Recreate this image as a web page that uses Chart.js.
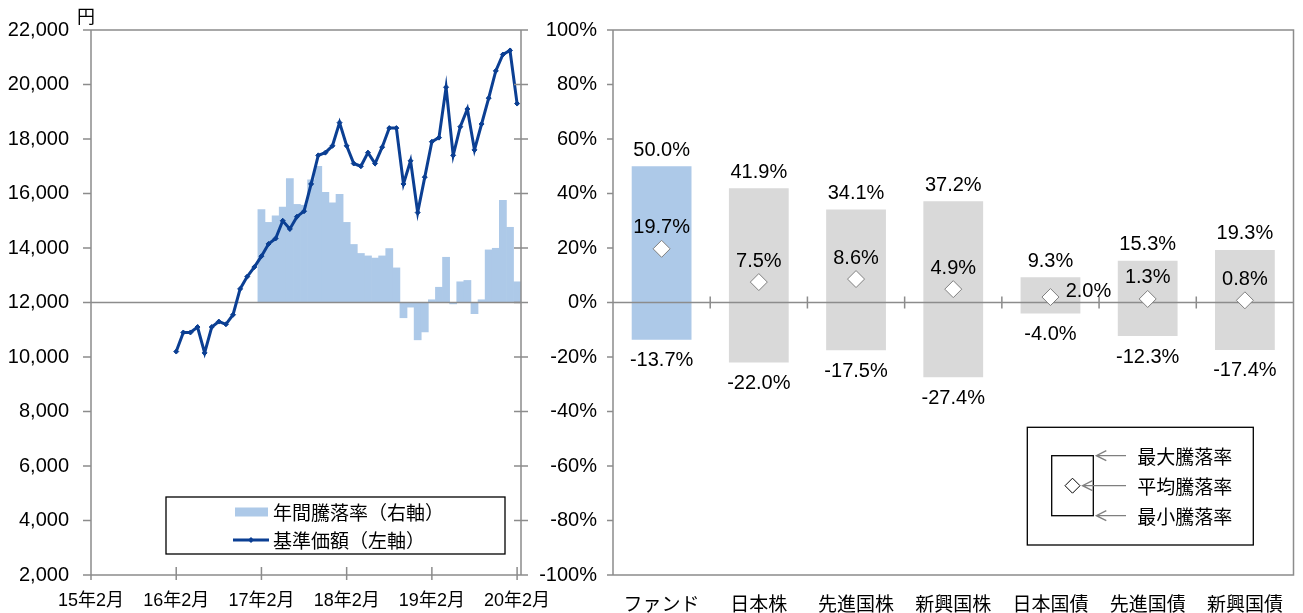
<!DOCTYPE html>
<html><head><meta charset="utf-8">
<script src="https://cdn.jsdelivr.net/npm/chart.js@4.4.1/dist/chart.umd.min.js"></script>
<style>
html,body{margin:0;padding:0;background:#fff;}
#wrap{position:relative;width:1303px;height:613px;overflow:hidden;}
#c1{position:absolute;left:0;top:0;}
#c2{position:absolute;left:532px;top:0;}
</style></head><body>
<div id="wrap">
<canvas id="c1" width="562" height="613"></canvas>
<canvas id="c2" width="771" height="613"></canvas>
</div>
<script>
// ---------- DATA ----------
const xTickLabels = ['15年2月','16年2月','17年2月','18年2月','19年2月','20年2月'];
const xTickMonths = [0, 12, 24, 36, 48, 60];          // months counted from 15年2月
const navStartMonth = 12;                              // 16年2月
const navValues = [10200,10900,10900,11100,10150,11100,11300,11200,11550,12500,
                   12950,13300,13700,14150,14350,15000,14700,15150,15350,16350,
                   17400,17500,17750,18600,17750,17100,17000,17500,17100,17700,
                   18400,18400,16350,17200,15300,16600,17900,18050,19900,17400,
                   18450,19100,17600,18550,19500,20500,21100,21250,19300];
const returnStartMonth = 24;                           // 17年2月
const annualReturns = [34.1,29.4,31.8,35.0,45.5,36.0,35.7,45.0,50.0,40.4,
                       36.6,39.7,29.4,21.3,18.0,17.1,16.3,17.1,19.8,12.7,
                       -5.6,-1.7,-13.7,-10.8,1.0,5.6,16.6,-0.5,7.6,8.1,
                       -4.1,1.0,19.3,19.9,37.5,27.6,7.6];
const navLabel = '基準価額（左軸）';
const returnLabel = '年間騰落率（右軸）';
const unitLabel = '円';

const categories = ['ファンド','日本株','先進国株','新興国株','日本国債','先進国債','新興国債'];
const maxReturns = [50.0, 41.9, 34.1, 37.2, 9.3, 15.3, 19.3];
const avgReturns = [19.7, 7.5, 8.6, 4.9, 2.0, 1.3, 0.8];
const minReturns = [-13.7, -22.0, -17.5, -27.4, -4.0, -12.3, -17.4];
const legendTexts = ['最大騰落率','平均騰落率','最小騰落率'];

// ---------- STYLE ----------
const NUM_FONT = "'Liberation Sans','Arial',sans-serif";
const JP_FONT = "'Noto Sans CJK JP','Noto Sans CJK SC',sans-serif";
const MIX_FONT = "'Liberation Sans','Noto Sans CJK JP',sans-serif";
const AXIS = '#8c8c8c';
const BLUE_LIGHT = '#adc9e8';
const GREY_BAR = '#d9d9d9';
const NAVY = '#0b3f93';
Chart.defaults.color = '#000';
Chart.defaults.animation = false;

const noGrid = {display: false, drawTicks: false};

// ---------- LEFT CHART ----------
const leftDecor = {
  id: 'leftDecor',
  afterDatasetDraw(chart, args) {
    if (args.meta.type !== 'bar') return;
    const {ctx, chartArea: a} = chart;
    const y0 = chart.scales.y1.getPixelForValue(0);
    ctx.save();
    ctx.strokeStyle = AXIS; ctx.lineWidth = 1.5;
    ctx.beginPath(); ctx.moveTo(a.left, y0); ctx.lineTo(a.right, y0); ctx.stroke();
    ctx.restore();
  },
  afterDraw(chart) {
    const {ctx, chartArea: a} = chart;
    const {x, y, y1} = chart.scales;
    ctx.save();
    ctx.strokeStyle = AXIS; ctx.lineWidth = 1.5;
    ctx.beginPath();
    ctx.rect(a.left, a.top, a.right - a.left, a.bottom - a.top);
    y.ticks.forEach(t => { const p = y.getPixelForValue(t.value); ctx.moveTo(a.left - 8, p); ctx.lineTo(a.left, p); });
    for (let v = y1.min; v <= y1.max; v += 20) { const p = y1.getPixelForValue(v); ctx.moveTo(a.right - 7, p); ctx.lineTo(a.right + 7, p); }
    x.ticks.forEach(t => { const p = x.getPixelForValue(t.value); ctx.moveTo(p, a.bottom - 8); ctx.lineTo(p, a.bottom + 5); });
    ctx.stroke();
    // unit
    ctx.fillStyle = '#000';
    ctx.font = `18px ${JP_FONT}`;
    ctx.textAlign = 'center'; ctx.textBaseline = 'middle';
    ctx.fillText(unitLabel, a.left - 5, a.top - 14);
    // legend
    const o = chart.options.plugins.leftDecor.legend;
    ctx.lineWidth = 1.3; ctx.strokeStyle = '#000';
    ctx.strokeRect(o.x, o.y, o.w, o.h);
    const ds = chart.data.datasets;
    const barDs = ds.find(d => d.type === 'bar');
    const lineDs = ds.find(d => d.type === 'line');
    ctx.fillStyle = barDs.backgroundColor;
    ctx.fillRect(o.sx, o.row1 - 4.5, 33, 9);
    ctx.strokeStyle = lineDs.borderColor; ctx.lineWidth = 3;
    ctx.beginPath(); ctx.moveTo(o.sx - 2, o.row2); ctx.lineTo(o.sx + 34, o.row2); ctx.stroke();
    const mx = o.sx + 16;
    ctx.fillStyle = lineDs.borderColor;
    ctx.beginPath(); ctx.moveTo(mx - 3, o.row2); ctx.lineTo(mx, o.row2 - 3); ctx.lineTo(mx + 3, o.row2); ctx.lineTo(mx, o.row2 + 3); ctx.closePath(); ctx.fill();
    ctx.fillStyle = '#000';
    ctx.font = `19px ${JP_FONT}`;
    ctx.textAlign = 'left'; ctx.textBaseline = 'middle';
    ctx.fillText(barDs.label, o.tx, o.row1 + 1);
    ctx.fillText(lineDs.label, o.tx, o.row2 + 1);
    ctx.restore();
  }
};

new Chart(document.getElementById('c1'), {
  type: 'bar',
  data: {
    datasets: [
      { type: 'line', label: navLabel, yAxisID: 'y', order: 0,
        data: navValues.map((v, i) => ({x: navStartMonth + i, y: v})),
        borderColor: NAVY, borderWidth: 3, tension: 0,
        pointStyle: 'rectRot', pointRadius: 2.5, pointBackgroundColor: NAVY, pointBorderColor: NAVY, pointBorderWidth: 1 },
      { type: 'bar', label: returnLabel, yAxisID: 'y1', order: 1,
        data: annualReturns.map((v, i) => ({x: returnStartMonth + i, y: v})),
        backgroundColor: BLUE_LIGHT, borderWidth: 0, barPercentage: 1, categoryPercentage: 1 }
    ]
  },
  options: {
    responsive: false,
    layout: {padding: {top: 30, left: 0, right: 30, bottom: 0}},
    plugins: {
      legend: {display: false}, tooltip: {enabled: false},
      leftDecor: {legend: {x: 166, y: 497, w: 339, h: 57, sx: 235, tx: 273, row1: 512, row2: 540}}
    },
    scales: {
      x: { type: 'linear', min: 0, max: 60.55, offset: false,
           grid: noGrid, border: {display: false},
           afterBuildTicks: s => { s.ticks = xTickMonths.map(v => ({value: v})); },
           ticks: { autoSkip: false, maxRotation: 0, minRotation: 0, padding: 15,
                    callback: v => xTickLabels[xTickMonths.indexOf(v)],
                    font: {family: MIX_FONT, size: 18} },
           afterFit: s => { s.height = 38; s.paddingLeft = 0; s.paddingRight = 0; } },
      y: { position: 'left', min: 2000, max: 22000,
           grid: noGrid, border: {display: false},
           ticks: { stepSize: 2000, padding: 22, callback: v => v.toLocaleString('en-US'),
                    font: {family: NUM_FONT, size: 20} },
           afterFit: s => { s.width = 91; s.paddingTop = 0; s.paddingBottom = 0; } },
      y1: { position: 'right', min: -100, max: 100,
            grid: noGrid, border: {display: false},
            ticks: {display: false, stepSize: 20},
            afterFit: s => { s.width = 11; s.paddingTop = 0; s.paddingBottom = 0; } }
    }
  },
  plugins: [leftDecor]
});

// ---------- RIGHT CHART ----------
const rightDecor = {
  id: 'rightDecor',
  afterDatasetDraw(chart, args) {
    if (args.meta.type !== 'bar') return;
    const {ctx, chartArea: a} = chart;
    const {x, y} = chart.scales;
    const y0 = y.getPixelForValue(0);
    ctx.save();
    ctx.strokeStyle = AXIS; ctx.lineWidth = 1.5;
    ctx.beginPath();
    ctx.moveTo(a.left, y0); ctx.lineTo(a.right, y0);
    for (let i = 0; i < categories.length - 1; i++) {
      const p = (x.getPixelForValue(i) + x.getPixelForValue(i + 1)) / 2;
      ctx.moveTo(p, y0 - 6); ctx.lineTo(p, y0 + 6);
    }
    ctx.stroke();
    ctx.restore();
  },
  afterDatasetsDraw(chart) {
    const {ctx} = chart;
    const {x, y} = chart.scales;
    const place = chart.options.plugins.rightDecor.avgPlacement;
    ctx.save();
    ctx.fillStyle = '#000';
    ctx.font = `20px ${NUM_FONT}`;
    ctx.textAlign = 'center'; ctx.textBaseline = 'middle';
    const fmt = v => v.toFixed(1) + '%';
    categories.forEach((c, i) => {
      const px = x.getPixelForValue(i);
      ctx.fillText(fmt(maxReturns[i]), px, y.getPixelForValue(maxReturns[i]) - 16);
      ctx.fillText(fmt(minReturns[i]), px, y.getPixelForValue(minReturns[i]) + 21);
      const ay = y.getPixelForValue(avgReturns[i]);
      if (place[i] === 'right') ctx.fillText(fmt(avgReturns[i]), px + 38, ay - 6);
      else ctx.fillText(fmt(avgReturns[i]), px, ay - 21);
    });
    ctx.restore();
  },
  afterDraw(chart) {
    const {ctx, chartArea: a} = chart;
    const {y} = chart.scales;
    ctx.save();
    ctx.strokeStyle = AXIS; ctx.lineWidth = 1.5;
    ctx.beginPath();
    ctx.rect(a.left, a.top, a.right - a.left, a.bottom - a.top);
    y.ticks.forEach(t => { const p = y.getPixelForValue(t.value); ctx.moveTo(a.left - 6, p); ctx.lineTo(a.left, p); });
    ctx.stroke();
    // legend
    const o = chart.options.plugins.rightDecor.legend;
    ctx.strokeStyle = '#000'; ctx.lineWidth = 1.3;
    ctx.strokeRect(o.x, o.y, o.w, o.h);
    ctx.strokeRect(o.ix, o.iy, o.iw, o.ih);
    const dx = o.ix + o.iw / 2, dy = o.iy + o.ih / 2;
    ctx.fillStyle = '#fff'; ctx.lineWidth = 1;
    ctx.beginPath();
    ctx.moveTo(dx - 7.5, dy); ctx.lineTo(dx, dy - 7.5); ctx.lineTo(dx + 7.5, dy); ctx.lineTo(dx, dy + 7.5); ctx.closePath();
    ctx.fill(); ctx.stroke();
    const rows = [o.iy, dy, o.iy + o.ih];
    const tips = [o.ix + o.iw + 3, dx + 10, o.ix + o.iw + 3];
    ctx.strokeStyle = '#7f7f7f'; ctx.lineWidth = 1.3;
    rows.forEach((ry, k) => {
      ctx.beginPath();
      ctx.moveTo(o.tail, ry); ctx.lineTo(tips[k], ry);
      ctx.moveTo(tips[k] + 10, ry - 5); ctx.lineTo(tips[k], ry); ctx.lineTo(tips[k] + 10, ry + 5);
      ctx.stroke();
    });
    ctx.fillStyle = '#000';
    ctx.font = `19px ${JP_FONT}`;
    ctx.textAlign = 'left'; ctx.textBaseline = 'middle';
    legendTexts.forEach((t, k) => ctx.fillText(t, o.tx, rows[k] + 1));
    ctx.restore();
  }
};

new Chart(document.getElementById('c2'), {
  type: 'bar',
  data: {
    labels: categories,
    datasets: [
      { type: 'line', label: '平均騰落率', data: avgReturns, order: 0, showLine: false,
        pointStyle: 'rectRot', pointRadius: 8.5, pointBackgroundColor: '#fff',
        pointBorderColor: '#808080', pointBorderWidth: 1 },
      { type: 'bar', label: '騰落率', order: 1,
        data: categories.map((c, i) => [minReturns[i], maxReturns[i]]),
        backgroundColor: categories.map((c, i) => i === 0 ? BLUE_LIGHT : GREY_BAR),
        borderWidth: 0, barPercentage: 0.615, categoryPercentage: 1 }
    ]
  },
  options: {
    responsive: false,
    layout: {padding: {top: 30, left: 0, right: 6, bottom: 0}},
    plugins: {
      legend: {display: false}, tooltip: {enabled: false},
      rightDecor: {
        avgPlacement: ['above','above','above','above','right','above','above'],
        legend: {x: 495.3, y: 427.3, w: 226, h: 117.7, ix: 519.7, iy: 455.7, iw: 41.6, ih: 60, tail: 594, tx: 605.3}
      }
    },
    scales: {
      x: { grid: noGrid, border: {display: false},
           ticks: {padding: 17, maxRotation: 0, autoSkip: false, font: {family: JP_FONT, size: 19}},
           afterFit: s => { s.height = 38; } },
      y: { min: -100, max: 100, grid: noGrid, border: {display: false},
           ticks: {stepSize: 20, padding: 16, callback: v => v + '%', font: {family: NUM_FONT, size: 20}},
           afterFit: s => { s.width = 81; } }
    }
  },
  plugins: [rightDecor]
});
</script>
</body></html>
